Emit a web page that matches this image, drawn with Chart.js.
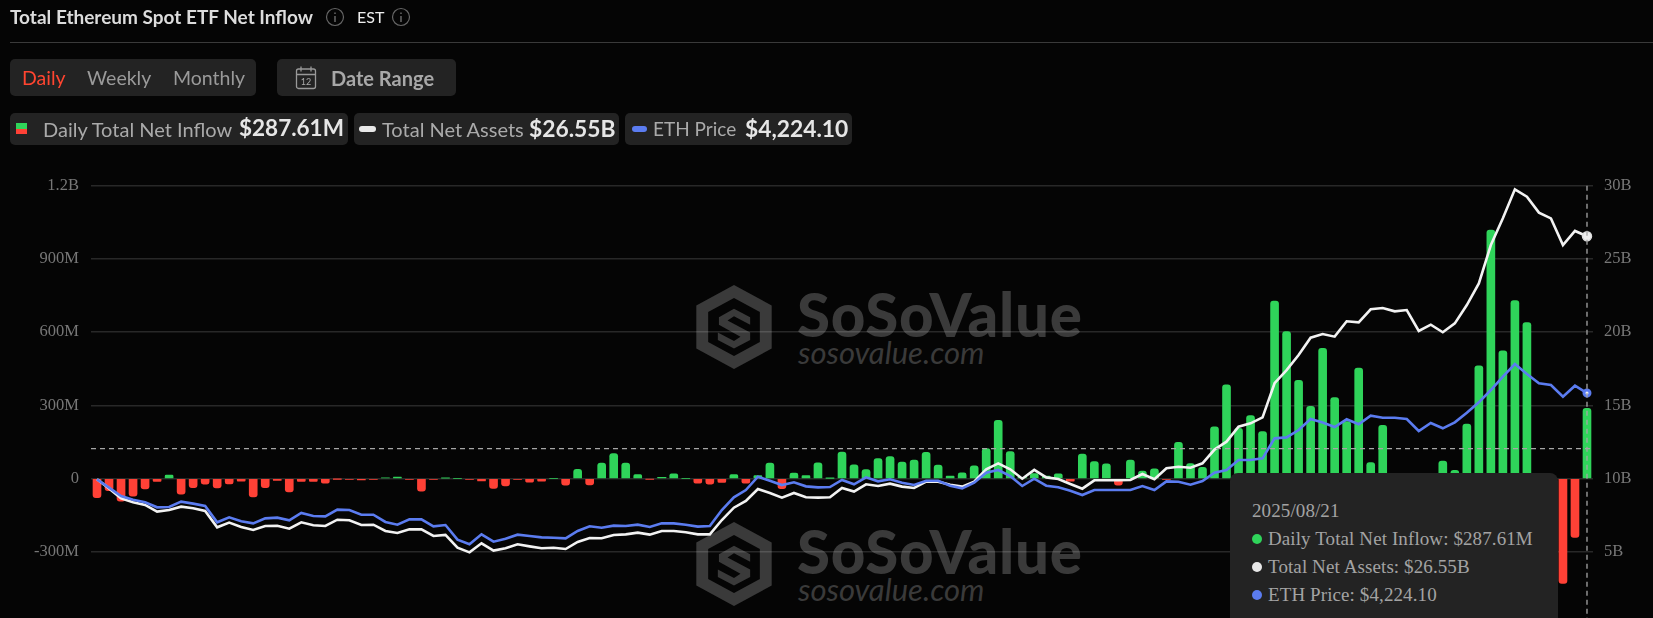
<!DOCTYPE html>
<html>
<head>
<meta charset="utf-8">
<script src="https://cdn.jsdelivr.net/npm/chart.js@4"></script>
<style>
html,body{margin:0;padding:0;width:1653px;height:618px;overflow:hidden;background:#050505;font-family:Lato,sans-serif;color:#aaa}
.abs{position:absolute;white-space:nowrap}
.box{position:absolute;background:#232323;border-radius:5px}
.v{font-weight:700;color:#e6e6e6}
#wrap{position:absolute;left:0;top:0;width:1653px;height:650px}
.wm1{position:absolute;left:797px;color:#3a3a3a;font-weight:900;font-size:60px;letter-spacing:.7px;line-height:60px;white-space:nowrap}
.wm2{position:absolute;left:798px;color:#3a3a3a;font-style:italic;font-size:31px;line-height:32px;white-space:nowrap}
#tip{position:absolute;left:1230px;top:473px;width:328px;height:170px;background:#232323;border-radius:8px;font-family:"Liberation Serif",serif;font-size:19px;line-height:19px;color:#a3a3a3;letter-spacing:.1px}
#tip div{position:absolute;white-space:nowrap}
#tip i{position:absolute;width:10px;height:10px;border-radius:50%;left:22px}
</style>
</head>
<body>
<!-- watermarks -->
<svg class="abs" style="left:696px;top:285px" width="76" height="84" viewBox="3 3 70 78"><path d="M38 3 L73 22 V62 L38 81 L3 62 V22 Z M38 15 L14 28 V56 L38 69 L62 56 V28 Z" fill="#3a3a3a" fill-rule="evenodd"/><path d="M24 33 L38 25 L53 33 V40 L38 32 L32 36 L53 47 V54 L38 62 L23 54 V47 L38 55 L44 51 L24 40 Z" fill="#3a3a3a"/></svg>
<div class="wm1" style="top:284px">SoSoValue</div>
<div class="wm2" style="top:336px">sosovalue.com</div>
<svg class="abs" style="left:696px;top:522px" width="76" height="84" viewBox="3 3 70 78"><path d="M38 3 L73 22 V62 L38 81 L3 62 V22 Z M38 15 L14 28 V56 L38 69 L62 56 V28 Z" fill="#3a3a3a" fill-rule="evenodd"/><path d="M24 33 L38 25 L53 33 V40 L38 32 L32 36 L53 47 V54 L38 62 L23 54 V47 L38 55 L44 51 L24 40 Z" fill="#3a3a3a"/></svg>
<div class="wm1" style="top:521px">SoSoValue</div>
<div class="wm2" style="top:573px">sosovalue.com</div>

<div id="wrap"><canvas id="c" width="1653" height="650" style="width:1653px;height:650px"></canvas></div>

<!-- header -->
<div class="abs" style="left:10px;top:6px;font-size:19px;line-height:22px;font-weight:700;color:#dcdcdc">Total Ethereum Spot ETF Net Inflow</div>
<svg class="abs" style="left:325px;top:7px" width="20" height="20"><circle cx="10" cy="10" r="8.5" fill="none" stroke="#666" stroke-width="1.2"/><path d="M10 9v6M10 5.5v1.5" stroke="#777" stroke-width="1.3"/></svg>
<div class="abs" style="left:357px;top:7px;font-size:16px;line-height:20px;color:#eee">EST</div>
<svg class="abs" style="left:391px;top:7px" width="20" height="20"><circle cx="10" cy="10" r="8.5" fill="none" stroke="#666" stroke-width="1.2"/><path d="M10 9v6M10 5.5v1.5" stroke="#777" stroke-width="1.3"/></svg>
<div class="abs" style="left:10px;top:42px;width:1643px;height:1px;background:#3a3a3a"></div>

<div class="box" style="left:10px;top:59px;width:246px;height:37px"></div>
<div class="abs" style="left:22px;top:66px;font-size:19.5px;line-height:24px;color:#ff4530">Daily</div>
<div class="abs" style="left:87px;top:66px;font-size:19.5px;line-height:24px;color:#9a9a9a">Weekly</div>
<div class="abs" style="left:173px;top:66px;font-size:19.5px;line-height:24px;color:#9a9a9a">Monthly</div>
<div class="box" style="left:277px;top:59px;width:179px;height:37px"></div>
<svg class="abs" style="left:295px;top:65px" width="22" height="25"><rect x="1.5" y="4" width="19" height="19.5" rx="2" fill="none" stroke="#999" stroke-width="1.3"/><path d="M1.5 9.5h19M6 1.5v5M16 1.5v5" stroke="#999" stroke-width="1.3"/><text x="11" y="20" font-size="9" fill="#aaa" text-anchor="middle" font-family="Lato">12</text></svg>
<div class="abs" style="left:331px;top:66px;font-size:20px;line-height:24px;font-weight:700;color:#a8a8a8">Date Range</div>

<div class="box" style="left:10px;top:113px;width:338px;height:32px"></div>
<div class="abs" style="left:16px;top:123px;width:11px;height:6px;background:#2fd45a"></div>
<div class="abs" style="left:16px;top:129px;width:11px;height:5px;background:#ff4136"></div>
<div class="abs" style="left:43px;top:117px;font-size:20px;line-height:24px">Daily Total Net Inflow</div>
<div class="abs v" style="left:239px;top:115px;font-size:22.5px;line-height:26px">$287.61M</div>

<div class="box" style="left:354px;top:113px;width:265px;height:32px"></div>
<div class="abs" style="left:359px;top:126px;width:17px;height:6px;border-radius:3px;background:#e8e8e8"></div>
<div class="abs" style="left:382px;top:117px;font-size:20px;line-height:24px">Total Net Assets</div>
<div class="abs v" style="left:529px;top:115px;font-size:22.8px;line-height:26px">$26.55B</div>

<div class="box" style="left:625px;top:113px;width:227px;height:32px"></div>
<div class="abs" style="left:632px;top:126px;width:15px;height:6px;border-radius:3px;background:#5b7cf0"></div>
<div class="abs" style="left:653px;top:117px;font-size:19px;line-height:24px">ETH Price</div>
<div class="abs v" style="left:745px;top:115px;font-size:22.8px;line-height:26px">$4,224.10</div>

<!-- hover box -->
<div id="tip">
  <div style="left:22px;top:28px">2025/08/21</div>
  <i style="top:61px;background:#2fd45a"></i><div style="left:38px;top:56px">Daily Total Net Inflow: $287.61M</div>
  <i style="top:89px;background:#e8e8e8"></i><div style="left:38px;top:84px">Total Net Assets: $26.55B</div>
  <i style="top:117px;background:#5b7cf0"></i><div style="left:38px;top:112px">ETH Price: $4,224.10</div>
</div>

<script>
const categories = [
"2025/02/24","2025/02/25","2025/02/26","2025/02/27","2025/02/28",
"2025/03/03","2025/03/04","2025/03/05","2025/03/06","2025/03/07","2025/03/10","2025/03/11","2025/03/12","2025/03/13","2025/03/14",
"2025/03/17","2025/03/18","2025/03/19","2025/03/20","2025/03/21","2025/03/24","2025/03/25","2025/03/26","2025/03/27","2025/03/28","2025/03/31",
"2025/04/01","2025/04/02","2025/04/03","2025/04/04","2025/04/07","2025/04/08","2025/04/09","2025/04/10","2025/04/11",
"2025/04/14","2025/04/15","2025/04/16","2025/04/17","2025/04/21","2025/04/22","2025/04/23","2025/04/24","2025/04/25","2025/04/28","2025/04/29","2025/04/30",
"2025/05/01","2025/05/02","2025/05/05","2025/05/06","2025/05/07","2025/05/08","2025/05/09","2025/05/12","2025/05/13","2025/05/14","2025/05/15","2025/05/16",
"2025/05/19","2025/05/20","2025/05/21","2025/05/22","2025/05/23","2025/05/27","2025/05/28","2025/05/29","2025/05/30",
"2025/06/02","2025/06/03","2025/06/04","2025/06/05","2025/06/06","2025/06/09","2025/06/10","2025/06/11","2025/06/12","2025/06/13",
"2025/06/16","2025/06/17","2025/06/18","2025/06/20","2025/06/23","2025/06/24","2025/06/25","2025/06/26","2025/06/27","2025/06/30",
"2025/07/01","2025/07/02","2025/07/03","2025/07/07","2025/07/08","2025/07/09","2025/07/10","2025/07/11","2025/07/14","2025/07/15","2025/07/16","2025/07/17","2025/07/18",
"2025/07/21","2025/07/22","2025/07/23","2025/07/24","2025/07/25","2025/07/28","2025/07/29","2025/07/30","2025/07/31",
"2025/08/01","2025/08/04","2025/08/05","2025/08/06","2025/08/07","2025/08/08","2025/08/11","2025/08/12","2025/08/13","2025/08/14","2025/08/15","2025/08/18","2025/08/19","2025/08/20","2025/08/21"];

// Daily net inflow, $M
const netInflow = [
-78,-50,-93,-72,-42,-12,14,-64,-37,-23,
-38,-22,-11,-75,-37,-8,-55,-12,-12,-19,
-1,-3,-6,-4,3,6,-3,-52,-3,2,
0,-3,-10,-40,-30,-4,-15,-11,0,-27,
38,-26,63,102,63,16,-2,5,19,0,
-19,-23,-16,16,-19,12,63,-41,22,12,
64,1,109,56,37,82,90,68,76,108,
55,10,23,52,123,239,111,5,20,10,
19,-11,100,70,60,-27,76,31,40,-3,
148,61,46,212,384,206,258,193,727,602,
403,296,534,332,234,453,66,218,-20,-60,
-15,-30,72,34,223,462,1018,523,729,639,
-60,-190,-430,-241,287.61];

// Total net assets, $B
const netAssets = [
9.95,9.33,8.65,8.38,8.20,7.74,7.85,8.08,7.97,7.79,
6.67,6.99,6.69,6.49,6.76,6.78,6.58,7.01,6.81,6.76,
7.19,7.15,6.83,6.85,6.42,6.28,6.53,6.53,6.08,6.15,
5.28,4.96,5.58,5.08,5.24,5.51,5.37,5.24,5.28,5.19,
5.67,5.94,5.92,6.15,6.19,6.31,6.17,6.42,6.42,6.33,
6.19,6.19,7.17,8.01,8.47,9.29,9.02,8.70,9.02,8.72,
8.70,8.72,9.36,9.11,9.61,9.49,9.65,9.45,9.36,9.79,
9.79,9.58,9.45,9.79,10.63,11.04,10.63,9.99,10.59,10.08,
9.97,9.63,9.31,9.88,9.88,9.88,9.90,10.31,9.95,10.70,
10.81,10.74,11.04,11.98,12.52,13.54,13.77,14.18,16.51,17.41,
18.44,19.62,19.87,19.69,20.74,20.67,21.56,21.65,21.42,21.51,
20.08,20.51,19.99,20.60,21.85,23.33,25.95,27.77,29.75,29.25,
28.16,27.77,25.95,26.91,26.55];

// ETH price, $
const ethPrice = [
2653,2501,2349,2282,2234,2143,2149,2246,2210,2167,
1870,1961,1888,1851,1942,1955,1906,2040,1985,1979,
2100,2094,2009,2009,1876,1827,1924,1924,1797,1821,
1554,1469,1651,1518,1572,1645,1621,1596,1590,1578,
1712,1797,1772,1809,1803,1827,1785,1851,1851,1827,
1791,1803,2094,2325,2458,2701,2628,2549,2598,2525,
2507,2513,2641,2562,2689,2616,2653,2592,2549,2628,
2628,2537,2489,2592,2774,2823,2713,2531,2665,2537,
2507,2446,2367,2458,2458,2458,2458,2531,2458,2616,
2610,2556,2622,2774,2823,3005,3005,3035,3399,3417,
3551,3751,3688,3606,3746,3655,3811,3775,3775,3751,
3533,3678,3582,3691,3866,4055,4279,4522,4753,4571,
4401,4370,4157,4358,4224.10];

const leftTickLabels = {"-600":"-600M","-300":"-300M","0":"0","300":"300M","600":"600M","900":"900M","1200":"1.2B"};
const cursorInflow = 123;

const GREEN="#2fd45a", RED="#ff4136", WHITE="#f2f2f2", BLUE="#5b7cf0", TICK="#777", GRID="rgba(255,255,255,.14)";
const last = categories.length-1;

const crosshair = {
  id:"crosshair",
  afterDatasetsDraw(ch){
    const {ctx,scales:{x,yL},chartArea:a}=ch;
    ctx.save();
    ctx.strokeStyle="#a6a6a6";ctx.lineWidth=1.3;ctx.setLineDash([5,4]);
    const px=x.getPixelForValue(last), py=yL.getPixelForValue(cursorInflow);
    ctx.beginPath();ctx.moveTo(a.left,py);ctx.lineTo(a.right,py);ctx.stroke();
    ctx.beginPath();ctx.moveTo(px,a.top);ctx.lineTo(px,a.bottom);ctx.stroke();
    ctx.restore();
  }
};

new Chart(document.getElementById("c"),{
  data:{labels:categories,datasets:[
    {type:"bar",label:"Daily Total Net Inflow",data:netInflow,yAxisID:"yL",order:3,
     barThickness:8,borderRadius:3,
     backgroundColor:netInflow.map(v=>v>=0?GREEN:RED)},
    {type:"line",label:"Total Net Assets",data:netAssets,yAxisID:"yR",order:2,
     borderColor:WHITE,borderWidth:2.6,tension:0,
     pointRadius:ctx=>ctx.dataIndex===last?4.5:0,pointBackgroundColor:"#eee",pointBorderColor:"#ddd",pointBorderWidth:1.5},
    {type:"line",label:"ETH Price",data:ethPrice,yAxisID:"yE",order:1,
     borderColor:BLUE,borderWidth:2.6,tension:0,
     pointRadius:ctx=>ctx.dataIndex===last?3:0,pointBackgroundColor:"#fff",pointBorderColor:BLUE,pointBorderWidth:3}
  ]},
  options:{
    responsive:false,animation:false,
    layout:{padding:{top:185.7,bottom:25,left:0,right:0}},
    plugins:{legend:{display:false},tooltip:{enabled:false}},
    scales:{
      x:{display:false,offset:true,grid:{display:false}},
      yL:{position:"left",min:-600,max:1200,
        afterFit(s){s.width=91},
        border:{display:false},
        grid:{color:GRID,lineWidth:1.5,drawTicks:false},
        ticks:{stepSize:300,padding:12,color:TICK,font:{family:"Liberation Serif",size:16.5},callback:v=>leftTickLabels[v]}},
      yR:{position:"right",min:0,max:30,
        afterFit(s){s.width=60},
        border:{display:false},
        grid:{display:false,drawTicks:false},
        ticks:{stepSize:5,padding:11,color:TICK,font:{family:"Liberation Serif",size:16.5},callback:v=>v+"B"}},
      yE:{display:false,min:0,max:8000}
    }
  },
  plugins:[crosshair]
});
</script>
</body>
</html>
